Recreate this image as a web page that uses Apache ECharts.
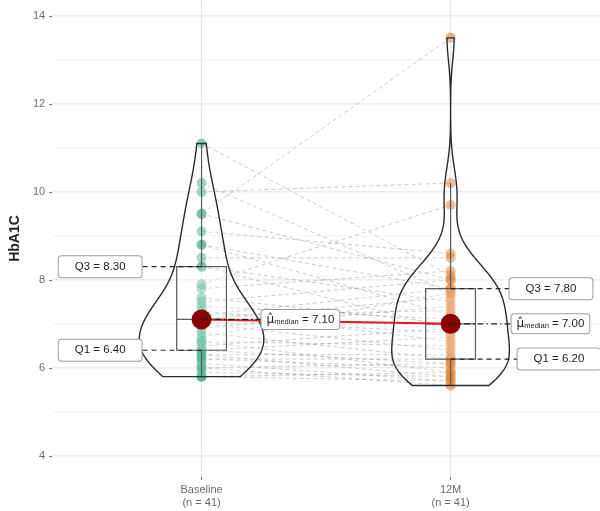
<!DOCTYPE html>
<html>
<head>
<meta charset="utf-8">
<script src="https://cdn.jsdelivr.net/npm/echarts@6/dist/echarts.min.js"></script>
<style>
  html, body { margin: 0; padding: 0; background: #fff; }
  #chart { width: 600px; height: 511px; }
</style>
</head>
<body>
<div id="chart"></div>
<script>
// HbA1C at baseline and after 12 months, one entry per subject (same order in both arrays)
const categories = ['Baseline', '12M'];
const baseline = [11.1, 10.2, 10.0, 9.5, 9.5, 9.1, 8.8, 8.8, 8.5, 8.3, 8.3, 7.9, 7.8, 7.6, 7.5, 7.4, 7.3, 7.2, 7.2, 7.1,
                  7.1, 7.0, 7.0, 6.9, 6.8, 6.7, 6.6, 6.6, 6.5, 6.4, 6.4, 6.3, 6.3, 6.2, 6.2, 6.1, 6.0, 6.0, 5.9, 5.8, 5.8];
const month12  = [8.1, 7.7, 10.2, 13.5, 8.0, 8.6, 7.8, 7.2, 8.5, 7.5, 6.9, 9.7, 8.2, 7.0, 8.0, 7.1, 6.6, 7.8, 7.3, 6.8,
                  7.6, 7.0, 6.4, 7.4, 6.2, 7.7, 6.5, 5.9, 6.9, 6.1, 6.7, 6.3, 5.8, 6.0, 6.2, 5.7, 5.6, 6.1, 5.8, 5.9, 5.7];
const yTicks = [4, 6, 8, 10, 12, 14];
const yMinorTicks = [5, 7, 9, 11, 13];
const xTicks = [1, 2];

const groups = [baseline, month12];
const groupColors = ['#1B9E77', '#D95F02'];
const FONT = '"Liberation Sans", Arial, sans-serif';

// ---- summary statistics ----
function quantile(sorted, p) {
  const h = (sorted.length - 1) * p;
  const lo = Math.floor(h);
  const hi = Math.min(lo + 1, sorted.length - 1);
  return sorted[lo] + (h - lo) * (sorted[hi] - sorted[lo]);
}
function summarize(values) {
  const s = values.slice().sort((a, b) => a - b);
  const q1 = quantile(s, 0.25), med = quantile(s, 0.5), q3 = quantile(s, 0.75);
  const iqr = q3 - q1;
  const lowW = s.find(v => v >= q1 - 1.5 * iqr);
  const highW = s.slice().reverse().find(v => v <= q3 + 1.5 * iqr);
  const mean = s.reduce((a, b) => a + b, 0) / s.length;
  const sd = Math.sqrt(s.reduce((a, b) => a + (b - mean) * (b - mean), 0) / (s.length - 1));
  return { s, q1, med, q3, iqr, lowW, highW, sd, min: s[0], max: s[s.length - 1] };
}
const stats = groups.map(summarize);

// Gaussian kernel density over the data range (bandwidth rule nrd0)
function density(values, st, nPts) {
  const n = values.length;
  const bw = 0.9 * Math.min(st.sd, st.iqr / 1.34) * Math.pow(n, -0.2);
  const out = [];
  for (let i = 0; i < nPts; i++) {
    const y = st.min + (st.max - st.min) * i / (nPts - 1);
    let d = 0;
    for (const v of values) { const z = (y - v) / bw; d += Math.exp(-0.5 * z * z); }
    out.push({ y, d: d / (n * bw * Math.sqrt(2 * Math.PI)) });
  }
  return out;
}
const dens = groups.map((g, i) => density(g, stats[i], 256));
const maxD = Math.max(...dens.flat().map(p => p.d));
const VIOLIN_HALF = 0.25, BOX_HALF = 0.1;

const fmt = v => v.toFixed(2);

// ---- series ----
const series = [];

// panel grid lines
function gridLines(values, color) {
  return {
    type: 'custom', silent: true, z: 0, data: values,
    renderItem: (params, api) => {
      const cs = params.coordSys;
      const y = api.coord([1, api.value(0)])[1];
      return { type: 'line', shape: { x1: cs.x, y1: y, x2: cs.x + cs.width, y2: y },
               style: { stroke: color, lineWidth: 1 } };
    }
  };
}
series.push(gridLines(yMinorTicks, '#f2f2f2'));
series.push(gridLines(yTicks, '#e4e4e4'));
series.push({
  type: 'custom', silent: true, z: 0, data: xTicks,
  renderItem: (params, api) => {
    const cs = params.coordSys;
    const x = api.coord([api.value(0), 5])[0];
    return { type: 'line', shape: { x1: x, y1: cs.y, x2: x, y2: cs.y + cs.height },
             style: { stroke: '#e4e4e4', lineWidth: 1 } };
  }
});

// paired subject paths
series.push({
  type: 'custom', silent: true, z: 1,
  data: baseline.map((b, i) => [b, month12[i]]),
  renderItem: (params, api) => {
    const p1 = api.coord([1, api.value(0)]);
    const p2 = api.coord([2, api.value(1)]);
    return { type: 'line', shape: { x1: p1[0], y1: p1[1], x2: p2[0], y2: p2[1] },
             style: { stroke: 'rgba(140,140,140,0.45)', lineWidth: 1, lineDash: [4, 3] } };
  }
});

// points
groups.forEach((g, gi) => {
  series.push({
    type: 'scatter', silent: true, z: 2,
    data: g.map(v => [gi + 1, v]),
    symbolSize: 10,
    itemStyle: { color: groupColors[gi], opacity: 0.5 }
  });
});

// boxplots
series.push({
  type: 'custom', silent: true, z: 3, data: [0, 1],
  renderItem: (params, api) => {
    const gi = api.value(0);
    const st = stats[gi];
    const cx = gi + 1;
    const tl = api.coord([cx - BOX_HALF, st.q3]);
    const br = api.coord([cx + BOX_HALF, st.q1]);
    const m1 = api.coord([cx - BOX_HALF, st.med]);
    const m2 = api.coord([cx + BOX_HALF, st.med]);
    const wTop = api.coord([cx, st.highW]);
    const wQ3 = api.coord([cx, st.q3]);
    const wQ1 = api.coord([cx, st.q1]);
    const wBot = api.coord([cx, st.lowW]);
    const ls = { stroke: '#333', lineWidth: 1.2 };
    return { type: 'group', children: [
      { type: 'rect', shape: { x: tl[0], y: tl[1], width: br[0] - tl[0], height: br[1] - tl[1] },
        style: { fill: 'rgba(255,255,255,0.2)', stroke: '#333', lineWidth: 1.2 } },
      { type: 'line', shape: { x1: m1[0], y1: m1[1], x2: m2[0], y2: m2[1] }, style: ls },
      { type: 'line', shape: { x1: wTop[0], y1: wTop[1], x2: wQ3[0], y2: wQ3[1] }, style: ls },
      { type: 'line', shape: { x1: wQ1[0], y1: wQ1[1], x2: wBot[0], y2: wBot[1] }, style: ls }
    ] };
  }
});

// violins
series.push({
  type: 'custom', silent: true, z: 4, data: [0, 1],
  renderItem: (params, api) => {
    const gi = api.value(0);
    const cx = gi + 1;
    const prof = dens[gi];
    const right = prof.map(p => api.coord([cx + p.d / maxD * VIOLIN_HALF, p.y]));
    const left = prof.slice().reverse().map(p => api.coord([cx - p.d / maxD * VIOLIN_HALF, p.y]));
    return { type: 'polygon', shape: { points: right.concat(left) },
             style: { fill: 'rgba(255,255,255,0.2)', stroke: '#2b2b2b', lineWidth: 1.4 } };
  }
});

// median path
series.push({
  type: 'line', silent: true, z: 5, symbol: 'none',
  data: stats.map((st, gi) => [gi + 1, st.med]),
  lineStyle: { color: '#e01b1b', width: 2 }
});
series.push({
  type: 'scatter', silent: true, z: 6,
  data: stats.map((st, gi) => [gi + 1, st.med]),
  symbolSize: 20,
  itemStyle: { color: '#8B0000', opacity: 1 }
});

// statistic labels: [group, statistic key, text kind, side (-1 left / 1 right), pixel gap]
const labelRows = [
  [0, 'q3', 'Q3', -1, 60],
  [0, 'q1', 'Q1', -1, 60],
  [0, 'med', 'mu', 1, 60],
  [1, 'q3', 'Q3', 1, 59],
  [1, 'med', 'mu', 1, 61],
  [1, 'q1', 'Q1', 1, 67]
];
series.push({
  type: 'custom', silent: true, z: 8,
  data: labelRows.map((r, i) => [i]),
  renderItem: (params, api) => {
    const [gi, key, kind, side, gap] = labelRows[api.value(0)];
    const val = stats[gi][key];
    const c = api.coord([gi + 1, val]);
    const edge = c[0] + side * gap;
    const isMu = kind === 'mu';
    const text = isMu ? '{mu|\u03bc\u0302}{sub|median}{v| = ' + fmt(val) + '}' : '{v|' + kind + ' = ' + fmt(val) + '}';
    return { type: 'group', children: [
      { type: 'line', z2: 1, shape: { x1: c[0], y1: c[1], x2: edge, y2: c[1] },
        style: { stroke: '#222', lineWidth: 1.2, lineDash: isMu ? [6, 3, 1.5, 3] : [5, 4] } },
      { type: 'text', z2: 2, x: edge, y: c[1],
        style: {
          text,
          align: side < 0 ? 'right' : 'left',
          verticalAlign: 'middle',
          backgroundColor: '#fff',
          borderColor: '#9a9a9a',
          borderWidth: 1,
          borderRadius: 3,
          padding: isMu ? [3, 5, 3, 5] : [4, 16, 4, 16],
          rich: {
            v: { fontSize: 11.5, fontFamily: FONT, fill: '#222', color: '#222', lineHeight: 13 },
            mu: { fontSize: 12, fontFamily: '"DejaVu Sans", sans-serif', fill: '#222', color: '#222', lineHeight: 13 },
            sub: { fontSize: 7.5, fontFamily: FONT, fill: '#222', color: '#222', lineHeight: 13, verticalAlign: 'bottom', padding: [4, 0, 0, 0] }
          }
        } }
    ] };
  }
});

const chart = echarts.init(document.getElementById('chart'), null, { renderer: 'canvas' });
chart.setOption({
  animation: false,
  backgroundColor: '#fff',
  grid: { left: 48, right: 0, top: 0, bottom: 34 },
  xAxis: {
    type: 'value', min: 0.4, max: 2.6,
    axisLine: { show: false },
    splitLine: { show: false },
    axisTick: { show: true, customValues: xTicks, length: 3, lineStyle: { color: '#777' } },
    axisLabel: {
      customValues: xTicks, margin: 6, lineHeight: 13,
      fontSize: 11, fontFamily: FONT, color: '#6b6b6b',
      formatter: v => categories[Math.round(v) - 1] + '\n(n = ' + groups[Math.round(v) - 1].length + ')'
    }
  },
  yAxis: {
    type: 'value', min: 3.52, max: 14.36,
    name: 'HbA1C', nameLocation: 'middle', nameGap: 21, nameRotate: 90,
    nameTextStyle: { fontSize: 14, fontWeight: 'bold', fontFamily: FONT, color: '#222' },
    axisLine: { show: false },
    splitLine: { show: false },
    axisTick: { show: true, customValues: yTicks, length: 3, lineStyle: { color: '#777' } },
    axisLabel: { customValues: yTicks, margin: 7, fontSize: 11, fontFamily: FONT, color: '#6b6b6b' }
  },
  series
});
</script>
</body>
</html>
